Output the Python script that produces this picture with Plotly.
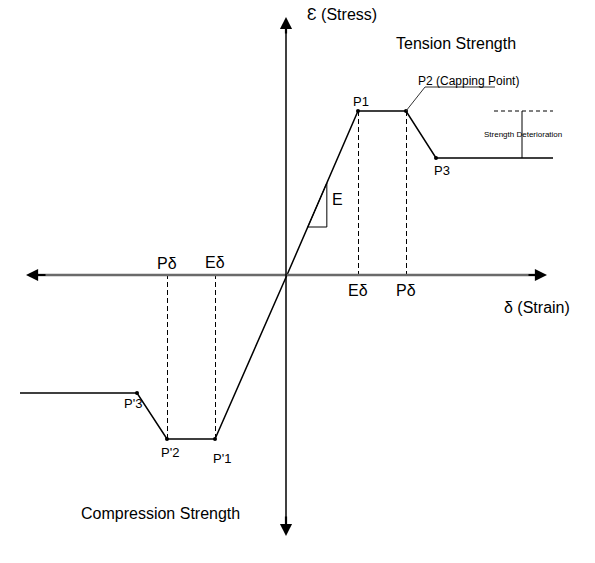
import plotly.graph_objects as go

# Stress-strain (capping) model, units arbitrary; origin at axis crossing
tension_x = [0, 71, 119, 149, 266]
tension_y = [0, 164, 164, 117, 117]
tension_labels = ["", "P1", "P2", "P3", ""]

compression_x = [0, -72, -120, -150, -267]
compression_y = [0, -164, -164, -118, -118]
compression_labels = ["", "P'1", "P'2", "P'3", ""]

x_range = [-287, 308]
y_range = [-288, 275]

FONT = "Liberation Sans, Arial, sans-serif"

fig = go.Figure()

# main curves
fig.add_trace(go.Scatter(x=tension_x, y=tension_y, mode="lines",
                         line=dict(color="black", width=1.5), hoverinfo="skip"))
fig.add_trace(go.Scatter(x=compression_x, y=compression_y, mode="lines",
                         line=dict(color="black", width=1.5), hoverinfo="skip"))
# vertex dots
fig.add_trace(go.Scatter(x=tension_x[1:4] + compression_x[1:4],
                         y=tension_y[1:4] + compression_y[1:4], mode="markers",
                         marker=dict(color="black", size=4), hoverinfo="skip"))

# dashed projections to the strain axis
for xs, ys in [(tension_x, tension_y), (compression_x, compression_y)]:
    for i in (1, 2):
        fig.add_trace(go.Scatter(x=[xs[i] + 0.5, xs[i] + 0.5], y=[ys[i], 0], mode="lines",
                                 line=dict(color="black", width=1, dash="5px,3px"),
                                 hoverinfo="skip"))

# slope triangle (E)
k = tension_y[1] / tension_x[1]
ty0, ty1 = 48, 92
fig.add_trace(go.Scatter(x=[ty0 / k, ty1 / k, ty1 / k, ty0 / k],
                         y=[ty0, ty0, ty1, ty0], mode="lines",
                         line=dict(color="black", width=1), hoverinfo="skip"))

# capping point leader line
fig.add_trace(go.Scatter(x=[tension_x[2], 138, 208], y=[tension_y[2], 188, 188],
                         mode="lines", line=dict(color="#333333", width=1), hoverinfo="skip"))

# strength deterioration marker
fig.add_trace(go.Scatter(x=[207, 266], y=[tension_y[2], tension_y[2]], mode="lines",
                         line=dict(color="black", width=1, dash="4px,3px"), hoverinfo="skip"))
fig.add_trace(go.Scatter(x=[235, 235], y=[tension_y[2], tension_y[3]], mode="lines",
                         line=dict(color="black", width=1), hoverinfo="skip"))

# axes with arrows
fig.add_shape(type="line", x0=-252, y0=0, x1=250, y1=0, line=dict(color="#6a6a6a", width=2.5))
fig.add_shape(type="line", x0=-1, y0=-250, x1=-1, y1=248, line=dict(color="black", width=1.5))

def arrow(x, y, ax, ay, color):
    fig.add_annotation(x=x, y=y, ax=ax, ay=ay, xref="x", yref="y", axref="x", ayref="y",
                       text="", showarrow=True, arrowhead=2, arrowsize=1.1,
                       arrowwidth=2.2, arrowcolor=color, standoff=0)

arrow(-261, 0, -240, 0, "black")
arrow(260, 0, 240, 0, "black")
arrow(-1, 258, -1, 240, "black")
arrow(-1, -261, -1, -240, "black")

def label(x, y, text, size=16, xanchor="center"):
    fig.add_annotation(x=x, y=y, xref="x", yref="y", text=text, showarrow=False,
                       font=dict(family=FONT, size=size, color="black"), xanchor=xanchor)

label(18, 261, "Ɛ (Stress)", 16, "left")
label(107, 232, "Tension Strength", 16, "left")
label(-208, -238, "Compression Strength", 16, "left")
label(250, -32, "δ (Strain)", 16)

label(tension_x[1] + 3, tension_y[1] + 10, tension_labels[1], 13)
label(tension_x[3] + 6, tension_y[3] - 12, tension_labels[3], 13)
label(129, 194, "P2 (Capping Point)", 12, "left")
label(50, 76, "E", 16)
label(236, 141, "Strength Deterioration", 8)

label(compression_x[1] + 7, compression_y[1] - 19, compression_labels[1], 13)
label(compression_x[2] + 3, compression_y[2] - 13, compression_labels[2], 13)
label(compression_x[3] - 4, compression_y[3] - 10, compression_labels[3], 13)

label(tension_x[1], -15, "Eδ", 16)
label(tension_x[2], -15, "Pδ", 16)
label(compression_x[1], 13, "Eδ", 16)
label(compression_x[2], 12, "Pδ", 16)

fig.update_layout(width=595, height=563, margin=dict(l=0, r=0, t=0, b=0),
                  plot_bgcolor="white", paper_bgcolor="white", showlegend=False,
                  xaxis=dict(range=x_range, visible=False, fixedrange=True),
                  yaxis=dict(range=y_range, visible=False, fixedrange=True))

fig.write_html("out.html", config={"displayModeBar": False, "staticPlot": True},
               post_script="document.body.style.margin='0';document.body.style.overflow='hidden';")
